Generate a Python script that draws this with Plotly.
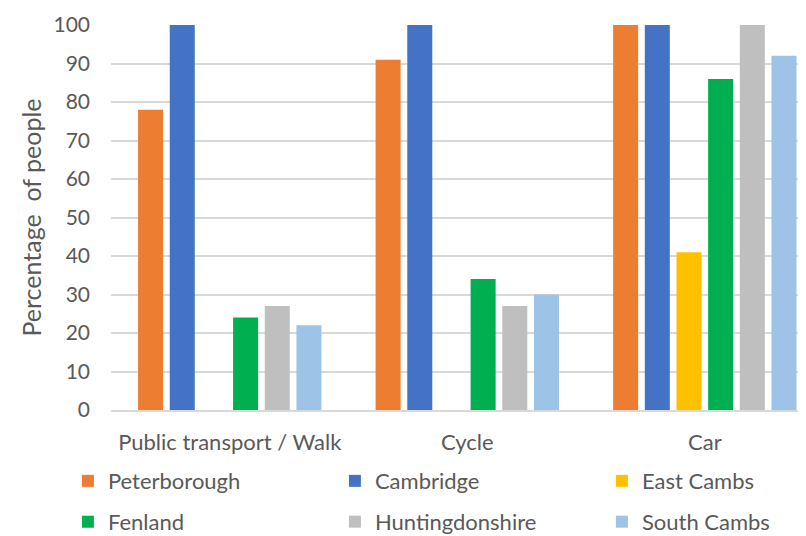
import plotly.graph_objects as go

categories = ["Public transport / Walk", "Cycle", "Car"]
series_names = ["Peterborough", "Cambridge", "East Cambs", "Fenland", "Huntingdonshire", "South Cambs"]
peterborough = [78, 91, 100]
cambridge = [100, 100, 100]
east_cambs = [0, 0, 41]
fenland = [24, 34, 86]
huntingdonshire = [27, 27, 100]
south_cambs = [22, 30, 92]
y_ticks = [0, 10, 20, 30, 40, 50, 60, 70, 80, 90, 100]

values = [peterborough, cambridge, east_cambs, fenland, huntingdonshire, south_cambs]
colors = ["#ED7D31", "#4472C4", "#FFC000", "#00B050", "#BFBFBF", "#9DC3E6"]
legend_rows = ["legend", "legend", "legend", "legend2", "legend2", "legend2"]

FONT = "Lato"
TXT = "#595959"
fig = go.Figure()
for name, vals, col, lg in zip(series_names, values, colors, legend_rows):
    fig.add_trace(go.Bar(name=name, x=categories, y=vals, legend=lg,
                         marker=dict(color=col, line=dict(width=0))))

leg_common = dict(orientation="h", x=-0.062, xanchor="left", yanchor="top",
                  entrywidth=222, font=dict(size=22, color=TXT), traceorder="normal",
                  bgcolor="rgba(0,0,0,0)")

fig.update_layout(
    width=798, height=528,
    margin=dict(l=103, r=0, t=17, b=126, autoexpand=False),
    paper_bgcolor="white", plot_bgcolor="white",
    barmode="group", bargap=0.2, bargroupgap=0.21,
    font=dict(family=FONT, size=21, color=TXT),
    showlegend=True,
    legend=dict(y=-0.13, **leg_common),
    legend2=dict(y=-0.236, **leg_common),
    xaxis=dict(range=[-0.5, 2.426], showline=True, linecolor="#D9D9D9", linewidth=1.5,
               ticks="", tickfont=dict(size=22, color=TXT), ticklabelstandoff=12, fixedrange=True),
    yaxis=dict(range=[0, 100], tickvals=y_ticks, showgrid=True, gridcolor="#D9D9D9", gridwidth=1.5,
               zeroline=False, ticks="", tickfont=dict(size=21, color=TXT), ticklabelstandoff=20,
               automargin=False,
               title=dict(text="Percentage\u00a0 of people", font=dict(size=25, color=TXT), standoff=4)),
)
fig.write_html("out.html")
